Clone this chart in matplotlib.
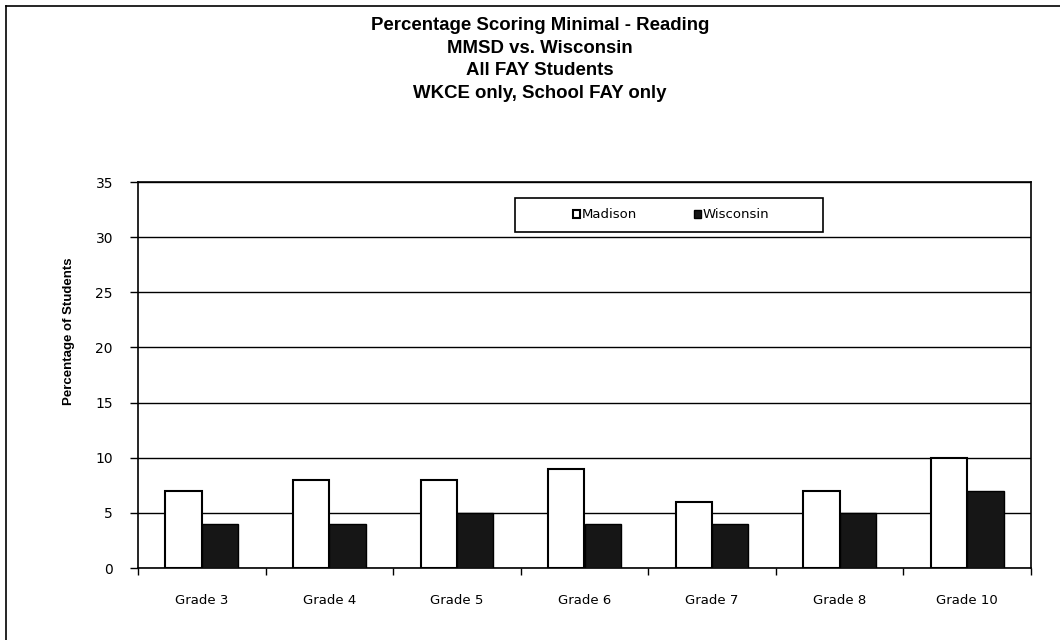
import matplotlib
matplotlib.use("Agg")
import matplotlib.pyplot as plt
import numpy as np
from matplotlib.lines import Line2D
from matplotlib.patches import Rectangle

categories = ["Grade 3", "Grade 4", "Grade 5", "Grade 6", "Grade 7", "Grade 8", "Grade 10"]
madison = [7, 8, 8, 9, 6, 7, 10]
wisconsin = [4, 4, 5, 4, 4, 5, 7]
yticks = [0, 5, 10, 15, 20, 25, 30, 35]
title_lines = ["Percentage Scoring Minimal - Reading", "MMSD vs. Wisconsin",
               "All FAY Students", "WKCE only, School FAY only"]

plt.rcParams['font.family'] = ['Liberation Sans', 'DejaVu Sans']
small = ['DejaVu Sans']

W, H = 1060, 640
fig = plt.figure(figsize=(W/100, H/100), dpi=100)

# outer frame (left and top edges visible)
fig.add_artist(Line2D([6/W, 6/W], [0, 1 - 6/H], color='black', lw=1.2))
fig.add_artist(Line2D([6/W, 1], [1 - 6/H, 1 - 6/H], color='black', lw=1.2))

left, right, top, bottom = 138, 1031, 182, 568
ax = fig.add_axes([left/W, 1 - bottom/H, (right-left)/W, (bottom-top)/H])

x = np.arange(len(categories))
bw = 0.285
ax.bar(x - bw/2, madison, bw, color='white', edgecolor='black', lw=1.5, zorder=3, label='Madison')
ax.bar(x + bw/2, wisconsin, bw, color='#161616', edgecolor='black', lw=1.0, zorder=3, label='Wisconsin')

ax.set_xlim(-0.5, len(categories) - 0.5)
ax.set_ylim(0, 35)
ax.set_yticks(yticks)
ax.set_yticklabels([str(v) for v in yticks], fontsize=10, family=small)
ax.yaxis.grid(True, color='black', lw=1.0)
ax.set_axisbelow(True)
ax.set_xticks(x)
ax.set_xticklabels(categories, fontsize=9.5, family=small)
ax.tick_params(axis='x', length=0, pad=19)
ax.set_xticks(np.arange(-0.5, len(categories)), minor=True)
ax.tick_params(axis='x', which='minor', length=5, direction='out', width=1)
ax.tick_params(axis='y', length=6, direction='out', width=1, pad=12)
for s in ax.spines.values():
    s.set_linewidth(1.2)
ax.set_ylabel("Percentage of Students", fontsize=9.5, fontweight='bold')
ax.yaxis.set_label_coords((75 - left)/(right - left), 1 - (331 - top)/(bottom - top))

fig.text(540/W, 1 - 59.5/H, "\n".join(title_lines), ha='center', va='center',
         fontsize=13.4, fontweight='bold', linespacing=1.42)

# legend box
bx0, by0, bx1, by1 = 515, 198, 823, 232
fig.add_artist(Rectangle((bx0/W, 1 - by1/H), (bx1-bx0)/W, (by1-by0)/H,
                         transform=fig.transFigure, facecolor='white', edgecolor='black', lw=1.2, zorder=4))
leg = fig.legend(handles=[ax.containers[0], ax.containers[1]],
                 labels=['Madison', 'Wisconsin'],
                 loc='center', bbox_to_anchor=((bx0+bx1)/2/W + 2/W, 1 - (by0+by1)/2/H),
                 ncol=2, frameon=False, prop={'family': small, 'size': 9.5},
                 handlelength=0.55, handleheight=0.55, handletextpad=0.1, columnspacing=4.3)
leg.set_zorder(5)

fig.savefig("out.png", dpi=100)
